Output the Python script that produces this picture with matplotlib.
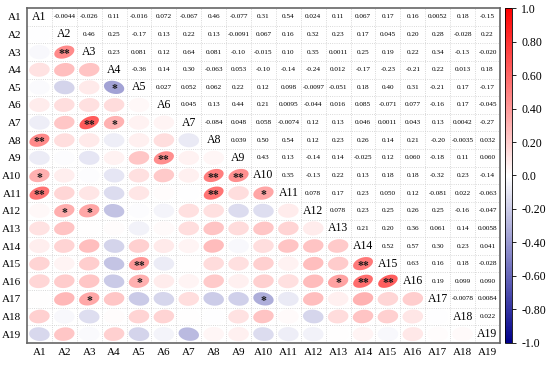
import numpy as np
import matplotlib.pyplot as plt
from matplotlib.colors import LinearSegmentedColormap
from matplotlib.patches import Polygon
import matplotlib as mpl

plt.rcParams['font.family'] = ['Liberation Serif', 'DejaVu Serif']

labels = ['A%d' % k for k in range(1, 20)]

# upper triangle, row i holds r(Ai, Aj) for j > i, as printed
upper = [
    ['-0.0044', '-0.026', '0.11', '-0.016', '0.072', '-0.067', '0.46', '-0.077', '0.31', '0.54', '0.024', '0.11', '0.067', '0.17', '0.16', '0.0052', '0.18', '-0.15'],
    ['0.46', '0.25', '-0.17', '0.13', '0.22', '0.13', '-0.0091', '0.067', '0.16', '0.32', '0.23', '0.17', '0.045', '0.20', '0.28', '-0.028', '0.22'],
    ['0.23', '0.081', '0.12', '0.64', '0.081', '-0.10', '-0.015', '0.10', '0.35', '0.0011', '0.25', '0.19', '0.22', '0.34', '-0.13', '-0.020'],
    ['-0.36', '0.14', '0.30', '-0.063', '0.053', '-0.10', '-0.14', '-0.24', '0.012', '-0.17', '-0.23', '-0.21', '0.22', '0.013', '0.18'],
    ['0.027', '0.052', '0.062', '0.22', '0.12', '0.098', '-0.0097', '-0.051', '0.18', '0.40', '0.31', '-0.21', '0.17', '-0.17'],
    ['0.045', '0.13', '0.44', '0.21', '0.0095', '-0.044', '0.016', '0.085', '-0.071', '0.077', '-0.16', '0.17', '-0.045'],
    ['-0.084', '0.048', '0.058', '-0.0074', '0.12', '0.13', '0.046', '0.0011', '0.043', '0.13', '0.0042', '-0.27'],
    ['0.039', '0.50', '0.54', '0.12', '0.23', '0.26', '0.14', '0.21', '-0.20', '-0.0035', '0.032'],
    ['0.43', '0.13', '-0.14', '0.14', '-0.025', '0.12', '0.060', '-0.18', '0.11', '0.060'],
    ['0.35', '-0.13', '0.22', '0.13', '0.18', '0.18', '-0.32', '0.23', '-0.14'],
    ['0.078', '0.17', '0.23', '0.050', '0.12', '-0.081', '0.022', '-0.063'],
    ['0.078', '0.23', '0.25', '0.26', '0.25', '-0.16', '-0.047'],
    ['0.21', '0.20', '0.36', '0.061', '0.14', '0.0058'],
    ['0.52', '0.57', '0.30', '0.23', '0.041'],
    ['0.63', '0.16', '0.18', '-0.028'],
    ['0.19', '0.099', '0.090'],
    ['-0.0078', '0.0084'],
    ['0.022'],
]

# significance marks in the lower triangle (row, col), 1-based
sig = [(3, 2, '**'), (5, 4, '*'), (7, 3, '**'), (7, 4, '*'), (8, 1, '**'),
       (9, 6, '**'), (10, 1, '*'), (10, 8, '**'), (10, 9, '**'), (11, 1, '**'),
       (11, 8, '**'), (11, 10, '*'), (12, 2, '*'), (12, 3, '*'), (15, 5, '**'),
       (16, 5, '*'), (17, 3, '*'), (17, 10, '*'), (15, 14, '**'), (16, 13, '*'),
       (16, 14, '**'), (16, 15, '**')]

n = len(labels)
r = np.eye(n)
for i, row in enumerate(upper):
    for k, s in enumerate(row):
        j = i + 1 + k
        r[i, j] = r[j, i] = float(s)

cmap = LinearSegmentedColormap.from_list('bwr2', ['#00008b', '#ffffff', '#ff0000'])
norm = mpl.colors.Normalize(-1, 1)

fig = plt.figure(figsize=(5.5, 3.66), dpi=100)
ax = fig.add_axes([0.049, 0.063, 0.86, 0.915])
ax.set_xlim(-0.5, n - 0.5)
ax.set_ylim(n - 0.5, -0.5)

for k in range(1, n):
    ax.axvline(k - 0.5, color='#cccccc', lw=0.6, ls=':')
    ax.axhline(k - 0.5, color='#cccccc', lw=0.6, ls=':')

# cell size in pixels, ellipses are shaped in pixel space
cw = 0.86 * 550 / n
ch = 0.915 * 366 / n
t = np.linspace(0, 2 * np.pi, 80)
for i in range(n):
    for j in range(n):
        if i == j:
            ax.text(j, i, labels[i], ha='center', va='center', fontsize=8.5)
        elif j > i:
            ax.text(j, i, upper[i][j - i - 1], ha='center', va='center', fontsize=5.2)
        else:
            v = r[i, j]
            a = 10.3
            b = 7.2 * (1 - 0.32 * abs(v))
            th = np.deg2rad(v * 36)
            u = a * np.cos(t)
            w = b * np.sin(t)
            up = u * np.cos(th) - w * np.sin(th)
            wp = u * np.sin(th) + w * np.cos(th)
            xs = j + up / cw
            ys = i - wp / ch
            ax.add_patch(Polygon(np.column_stack([xs, ys]), closed=True,
                                 facecolor=cmap(norm(v)), edgecolor='none'))

for a_, b_, s in sig:
    ax.text(b_ - 1, a_ - 1 + 0.12, s, ha='center', va='center', fontsize=8.5,
            fontweight='bold', color='#1a1a1a')

ax.set_xticks(range(n))
ax.set_xticklabels(labels, fontsize=8)
ax.set_yticks(range(n))
ax.set_yticklabels(labels, fontsize=8)
ax.tick_params(length=0, pad=4)
for sp in ax.spines.values():
    sp.set_color('#666666')
    sp.set_linewidth(1.2)

cax = fig.add_axes([0.918, 0.063, 0.013, 0.915])
sm = mpl.cm.ScalarMappable(norm=norm, cmap=cmap)
cb = fig.colorbar(sm, cax=cax)
ticks = [-1.0, -0.8, -0.6, -0.4, -0.2, 0.0, 0.2, 0.4, 0.6, 0.8, 1.0]
cb.set_ticks(ticks)
cb.set_ticklabels(['-1.0', '-0.80', '-0.60', '-0.40', '-0.20', '0.0', '0.20', '0.40', '0.60', '0.80', '1.0'])
cb.ax.tick_params(labelsize=8.5, length=3, width=0.6)
cb.outline.set_linewidth(0.6)

fig.savefig('out.png', dpi=100)
